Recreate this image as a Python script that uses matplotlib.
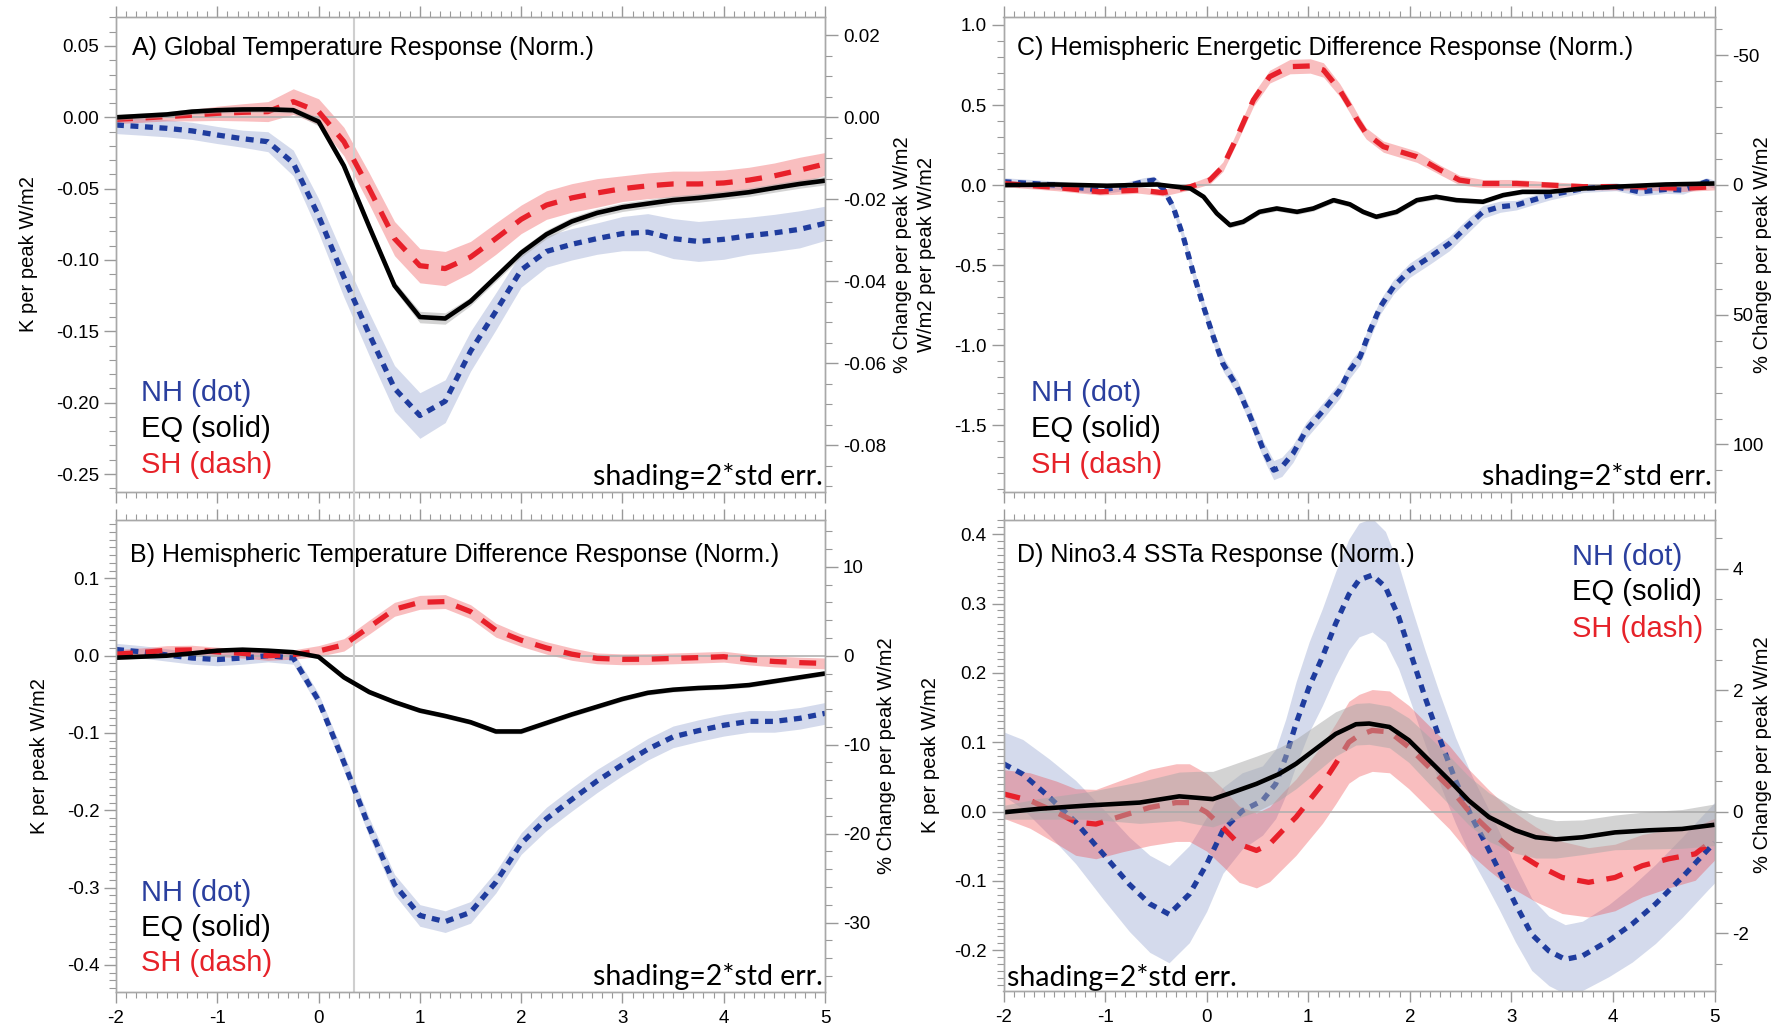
import numpy as np
import matplotlib
matplotlib.use("Agg")
import matplotlib.pyplot as plt
from matplotlib.ticker import MultipleLocator, FormatStrFormatter
from matplotlib.patches import ConnectionPatch

plt.rcParams["font.family"] = ["Liberation Sans", "DejaVu Sans"]
plt.rcParams["axes.unicode_minus"] = False

# ---------------- data ----------------
# panels A and B share a 0.25-year grid
x_ab = np.arange(-2, 5.001, 0.25)

nh_a = [-0.0054, -0.0065, -0.0077, -0.0095, -0.0124, -0.0150, -0.0171, -0.032, -0.069, -0.112,
        -0.152, -0.190, -0.209, -0.199, -0.164, -0.136, -0.107, -0.094, -0.089, -0.085,
        -0.0815, -0.0805, -0.085, -0.087, -0.0855, -0.083, -0.081, -0.0785, -0.0743]
eq_a = [0.000, 0.001, 0.002, 0.004, 0.005, 0.0055, 0.0056, 0.005, -0.003, -0.034,
        -0.0766, -0.118, -0.140, -0.141, -0.129, -0.112, -0.095, -0.082, -0.073, -0.067,
        -0.063, -0.0605, -0.058, -0.0565, -0.0546, -0.0525, -0.0495, -0.0467, -0.0444]
sh_a = [-0.0014, -0.0005, 0.0005, 0.0015, 0.0028, 0.0035, 0.004, 0.011, 0.004, -0.017,
        -0.050, -0.085, -0.104, -0.106, -0.098, -0.085, -0.0715, -0.0615, -0.0565, -0.053,
        -0.050, -0.048, -0.0467, -0.0467, -0.046, -0.044, -0.041, -0.037, -0.0327]
nh_a_err = [0.006, 0.006, 0.006, 0.006, 0.006, 0.006, 0.007, 0.009, 0.012, 0.014,
            0.015, 0.016, 0.016, 0.015, 0.014, 0.013, 0.012, 0.011, 0.011, 0.011,
            0.012, 0.013, 0.014, 0.014, 0.014, 0.013, 0.013, 0.013, 0.012]
eq_a_err = [0.002, 0.002, 0.002, 0.002, 0.002, 0.002, 0.002, 0.002, 0.003, 0.003,
            0.003, 0.003, 0.004, 0.004, 0.003, 0.003, 0.003, 0.003, 0.003, 0.003,
            0.003, 0.003, 0.003, 0.003, 0.003, 0.003, 0.003, 0.003, 0.003]
sh_a_err = [0.003, 0.003, 0.003, 0.004, 0.005, 0.006, 0.007, 0.009, 0.009, 0.010,
            0.011, 0.012, 0.012, 0.012, 0.011, 0.011, 0.010, 0.010, 0.010, 0.010,
            0.009, 0.009, 0.009, 0.009, 0.009, 0.009, 0.009, 0.009, 0.008]

nh_b = [0.008, 0.005, 0.001, -0.003, -0.005, -0.003, 0.0, -0.003, -0.058, -0.138,
        -0.222, -0.296, -0.336, -0.344, -0.332, -0.293, -0.243, -0.211, -0.186, -0.162,
        -0.141, -0.121, -0.105, -0.097, -0.090, -0.085, -0.085, -0.081, -0.0746]
eq_b = [-0.0026, -0.0013, 0.0, 0.003, 0.0065, 0.0078, 0.0065, 0.0045, -0.0015, -0.028,
        -0.047, -0.060, -0.071, -0.078, -0.086, -0.098, -0.098, -0.087, -0.076, -0.066,
        -0.056, -0.048, -0.044, -0.0418, -0.0405, -0.038, -0.033, -0.028, -0.023]
sh_b = [0.002, 0.004, 0.007, 0.0075, 0.005, 0.003, 0.0, 0.0015, 0.006, 0.014,
        0.037, 0.060, 0.069, 0.070, 0.057, 0.033, 0.020, 0.010, 0.002, -0.0035,
        -0.0047, -0.0045, -0.0035, -0.0025, -0.0013, -0.005, -0.0075, -0.009, -0.010]
nh_b_err = [0.008, 0.008, 0.008, 0.008, 0.008, 0.008, 0.008, 0.008, 0.009, 0.011,
            0.012, 0.013, 0.014, 0.014, 0.014, 0.014, 0.014, 0.015, 0.015, 0.015,
            0.014, 0.014, 0.014, 0.014, 0.014, 0.014, 0.014, 0.014, 0.014]
eq_b_err = [0.002, 0.002, 0.002, 0.002, 0.002, 0.002, 0.002, 0.002, 0.002, 0.003,
            0.003, 0.003, 0.003, 0.003, 0.003, 0.003, 0.003, 0.003, 0.003, 0.003,
            0.003, 0.003, 0.003, 0.003, 0.003, 0.003, 0.003, 0.003, 0.003]
sh_b_err = [0.006, 0.006, 0.006, 0.006, 0.006, 0.006, 0.006, 0.006, 0.007, 0.008,
            0.009, 0.009, 0.009, 0.009, 0.009, 0.009, 0.008, 0.008, 0.008, 0.007,
            0.007, 0.007, 0.007, 0.007, 0.007, 0.007, 0.007, 0.007, 0.007]

# panel C
x_nh_c = [-2, -1.48, -1.05, -0.82, -0.62, -0.52, -0.43, -0.33, -0.23, -0.13, -0.03, 0.066,
          0.16, 0.30, 0.43, 0.56, 0.66, 0.74, 0.85, 0.98, 1.15, 1.31, 1.41, 1.51, 1.61,
          1.71, 1.84, 2.0, 2.20, 2.39, 2.56, 2.72, 2.89, 3.05, 3.21, 3.38, 3.71, 4.03,
          4.26, 4.52, 4.69, 4.92, 5.0]
nh_c = [0.021, 0.0, -0.031, -0.01, 0.021, 0.031, -0.021, -0.135, -0.323, -0.552, -0.76,
        -0.948, -1.115, -1.26, -1.448, -1.656, -1.78, -1.76, -1.677, -1.531, -1.406,
        -1.281, -1.156, -1.073, -0.906, -0.76, -0.635, -0.531, -0.448, -0.365, -0.26,
        -0.167, -0.135, -0.125, -0.094, -0.0625, -0.021, -0.01, -0.042, -0.027, -0.031,
        0.021, 0.006]
nh_c_err = [0.025, 0.025, 0.025, 0.025, 0.025, 0.025, 0.025, 0.03, 0.035, 0.04, 0.04,
            0.045, 0.045, 0.045, 0.05, 0.055, 0.06, 0.06, 0.055, 0.05, 0.05, 0.05, 0.05,
            0.05, 0.05, 0.045, 0.045, 0.045, 0.045, 0.045, 0.045, 0.04, 0.035, 0.03,
            0.03, 0.03, 0.025, 0.025, 0.025, 0.025, 0.025, 0.025, 0.025]
x_eq_c = [-2, -1.5, -0.98, -0.49, -0.16, -0.03, 0.10, 0.23, 0.36, 0.52, 0.69, 0.89, 1.05,
          1.25, 1.41, 1.54, 1.67, 1.87, 2.07, 2.26, 2.46, 2.72, 2.92, 3.11, 3.38, 3.71,
          4.03, 4.52, 5.0]
eq_c = [0.0, 0.004, -0.004, 0.004, -0.021, -0.073, -0.177, -0.25, -0.229, -0.167, -0.146,
        -0.167, -0.146, -0.094, -0.12, -0.167, -0.198, -0.167, -0.094, -0.073, -0.094,
        -0.104, -0.0625, -0.042, -0.042, -0.021, -0.01, 0.004, 0.01]
eq_c_err = [0.012, 0.012, 0.012, 0.012, 0.012, 0.014, 0.015, 0.016, 0.016, 0.016, 0.016,
            0.016, 0.016, 0.016, 0.016, 0.016, 0.016, 0.016, 0.016, 0.016, 0.015, 0.015,
            0.014, 0.014, 0.013, 0.013, 0.012, 0.012, 0.012]
x_sh_c = [-2, -1.48, -1.05, -0.66, -0.43, -0.16, 0.03, 0.16, 0.30, 0.46, 0.62, 0.82, 1.02,
          1.15, 1.31, 1.41, 1.48, 1.57, 1.74, 2.07, 2.30, 2.49, 2.72, 3.05, 3.38, 3.71,
          4.20, 4.69, 5.0]
sh_c = [0.01, -0.015, -0.042, -0.031, -0.048, -0.01, 0.031, 0.115, 0.302, 0.531, 0.677,
        0.74, 0.744, 0.719, 0.594, 0.49, 0.41, 0.323, 0.24, 0.177, 0.094, 0.031, 0.01,
        0.01, 0.0, -0.01, -0.01, -0.02, -0.01]
sh_c_err = [0.02, 0.02, 0.02, 0.02, 0.02, 0.02, 0.025, 0.03, 0.035, 0.04, 0.04, 0.045,
            0.045, 0.045, 0.04, 0.04, 0.04, 0.035, 0.035, 0.035, 0.03, 0.03, 0.025, 0.025,
            0.02, 0.02, 0.02, 0.02, 0.02]

# panel D
x_nh_d = [-2, -1.81, -1.55, -1.29, -1.02, -0.76, -0.56, -0.37, -0.17, 0.0, 0.16, 0.35,
          0.55, 0.68, 0.78, 0.88, 1.01, 1.14, 1.27, 1.40, 1.50, 1.63, 1.76, 1.89, 2.02,
          2.15, 2.29, 2.45, 2.61, 2.75, 2.88, 3.04, 3.20, 3.37, 3.53, 3.70, 3.96, 4.19,
          4.42, 4.68, 4.94, 5.0]
nh_d = [0.069, 0.054, 0.021, -0.015, -0.061, -0.105, -0.133, -0.148, -0.119, -0.076,
        -0.027, 0.001, 0.016, 0.04, 0.079, 0.127, 0.18, 0.223, 0.271, 0.313, 0.334, 0.341,
        0.324, 0.281, 0.223, 0.165, 0.107, 0.045, -0.008, -0.047, -0.085, -0.133, -0.177,
        -0.201, -0.213, -0.208, -0.186, -0.162, -0.133, -0.095, -0.054, -0.045]
nh_d_err = [0.046, 0.05, 0.055, 0.06, 0.065, 0.068, 0.07, 0.07, 0.07, 0.068, 0.062, 0.055,
            0.05, 0.05, 0.055, 0.06, 0.065, 0.07, 0.075, 0.08, 0.082, 0.082, 0.08, 0.075,
            0.07, 0.068, 0.065, 0.062, 0.06, 0.058, 0.056, 0.055, 0.052, 0.05, 0.05, 0.05,
            0.052, 0.055, 0.057, 0.058, 0.058, 0.058]
x_eq_d = [-2, -1.65, -1.15, -0.66, -0.27, -0.10, 0.06, 0.22, 0.49, 0.71, 0.88, 1.08, 1.27,
          1.47, 1.60, 1.80, 1.99, 2.19, 2.39, 2.58, 2.78, 3.04, 3.24, 3.44, 3.70, 4.02,
          4.35, 4.68, 5.0]
eq_d = [-0.001, 0.004, 0.009, 0.013, 0.022, 0.020, 0.018, 0.026, 0.040, 0.054, 0.069,
        0.091, 0.112, 0.126, 0.127, 0.122, 0.103, 0.074, 0.045, 0.016, -0.008, -0.027,
        -0.037, -0.040, -0.037, -0.030, -0.027, -0.025, -0.019]
eq_d_err = [0.01, 0.015, 0.02, 0.03, 0.035, 0.038, 0.04, 0.04, 0.04, 0.038, 0.036, 0.034,
            0.032, 0.03, 0.03, 0.03, 0.032, 0.034, 0.035, 0.035, 0.035, 0.033, 0.03, 0.027,
            0.025, 0.025, 0.027, 0.028, 0.03]
x_sh_d = [-2, -1.74, -1.48, -1.29, -1.09, -0.83, -0.56, -0.30, -0.17, 0.0, 0.16, 0.32,
          0.49, 0.62, 0.75, 0.88, 1.01, 1.14, 1.27, 1.40, 1.50, 1.63, 1.80, 1.99, 2.19,
          2.39, 2.58, 2.78, 2.98, 3.24, 3.50, 3.76, 4.02, 4.29, 4.55, 4.81, 4.96, 5.0]
sh_d = [0.0255, 0.016, -0.001, -0.015, -0.018, -0.006, 0.006, 0.013, 0.013, -0.001,
        -0.023, -0.047, -0.056, -0.047, -0.027, -0.008, 0.016, 0.040, 0.069, 0.100, 0.110,
        0.117, 0.115, 0.093, 0.064, 0.035, 0.001, -0.027, -0.052, -0.076, -0.095, -0.102,
        -0.095, -0.078, -0.068, -0.061, -0.044, -0.040]
sh_d_err = [0.035, 0.04, 0.045, 0.048, 0.05, 0.052, 0.055, 0.056, 0.056, 0.056, 0.056,
            0.055, 0.054, 0.054, 0.055, 0.055, 0.056, 0.057, 0.058, 0.059, 0.059, 0.059,
            0.059, 0.06, 0.06, 0.06, 0.06, 0.058, 0.056, 0.054, 0.052, 0.05, 0.048, 0.045,
            0.042, 0.038, 0.032, 0.03]

# ---------------- style ----------------
NH_COL = "#1f3c9e"
SH_COL = "#e8202a"
FRAME = "#a8a8a8"
W, H = 1778.0, 1031.0


def band_line(ax, x, y, err, kind):
    x = np.asarray(x)
    y = np.asarray(y)
    err = np.asarray(err)
    if kind == "nh":
        ax.fill_between(x, y - err, y + err, color="#2b4aa0", alpha=0.2, lw=0, zorder=1)
        ax.plot(x, y, color=NH_COL, lw=3.8, ls=(0, (1.5, 1.25)), zorder=2,
                dash_joinstyle="round")
    elif kind == "sh":
        ax.fill_between(x, y - err, y + err, color="#ee3a3f", alpha=0.33, lw=0, zorder=1.1)
        ax.plot(x, y, color=SH_COL, lw=3.8, ls=(0, (3.2, 2.4)), zorder=2.1,
                dash_joinstyle="round")
    else:
        ax.fill_between(x, y - err, y + err, color="#a8a8a8", alpha=0.5, lw=0, zorder=2.5)
        ax.plot(x, y, color="black", lw=3.3, zorder=3, solid_capstyle="butt",
                solid_joinstyle="round")


def style_axes(ax, ax2, ylim, ylim2, maj, mnr, maj2, mnr2, fmt, fmt2, xlabels):
    ax.set_xlim(-2, 5)
    ax.set_ylim(*ylim)
    ax2.set_ylim(*ylim2)
    ax.xaxis.set_major_locator(MultipleLocator(1))
    ax.xaxis.set_minor_locator(MultipleLocator(0.1))
    ax.yaxis.set_major_locator(MultipleLocator(maj))
    ax.yaxis.set_minor_locator(MultipleLocator(mnr))
    ax.yaxis.set_major_formatter(FormatStrFormatter(fmt))
    ax2.yaxis.set_major_locator(MultipleLocator(maj2))
    ax2.yaxis.set_minor_locator(MultipleLocator(mnr2))
    ax2.yaxis.set_major_formatter(FormatStrFormatter(fmt2))
    ax.tick_params(axis="x", which="both", direction="out", top=True, bottom=True,
                   colors="#999999", labelcolor="black", labelsize=13.5, pad=5,
                   labelbottom=xlabels)
    ax.tick_params(axis="x", which="major", length=8, width=1)
    ax.tick_params(axis="x", which="minor", length=4.5, width=0.8)
    ax.tick_params(axis="y", which="both", direction="out", colors="#999999",
                   labelcolor="black", labelsize=13.5, pad=3)
    ax.tick_params(axis="y", which="major", length=9, width=1)
    ax.tick_params(axis="y", which="minor", length=5, width=0.8)
    ax2.tick_params(axis="y", which="both", direction="out", colors="#999999",
                    labelcolor="black", labelsize=13.5, pad=4)
    ax2.tick_params(axis="y", which="major", length=9, width=1)
    ax2.tick_params(axis="y", which="minor", length=5, width=0.8)
    for a in (ax, ax2):
        for sp in a.spines.values():
            sp.set_color(FRAME)
            sp.set_linewidth(1.0)
    ax.axhline(0, color="#b0b0b0", lw=1.2, zorder=1.5)


def legend_text(ax, x, ys, ha="left"):
    ax.text(x, ys[0], "NH (dot)", color="#2a3f9e", fontsize=21, ha=ha, va="center",
            transform=ax.transAxes)
    ax.text(x, ys[1], "EQ (solid)", color="black", fontsize=21, ha=ha, va="center",
            transform=ax.transAxes)
    ax.text(x, ys[2], "SH (dash)", color="#e62229", fontsize=21, ha=ha, va="center",
            transform=ax.transAxes)


fig = plt.figure(figsize=(17.78, 10.31), dpi=100)

axA = fig.add_axes([116 / W, 1 - 491.7 / H, 709 / W, 474.4 / H])
axB = fig.add_axes([116 / W, 1 - 992 / H, 709 / W, 472 / H])
axC = fig.add_axes([1003.5 / W, 1 - 491.7 / H, 711 / W, 474.4 / H])
axD = fig.add_axes([1003.5 / W, 1 - 991 / H, 711 / W, 471 / H])
axA2 = axA.twinx()
axB2 = axB.twinx()
axC2 = axC.twinx()
axD2 = axD.twinx()

# A
band_line(axA, x_ab, nh_a, nh_a_err, "nh")
band_line(axA, x_ab, sh_a, sh_a_err, "sh")
band_line(axA, x_ab, eq_a, eq_a_err, "eq")
style_axes(axA, axA2, (-0.2624, 0.0701), (-0.0913, 0.0244), 0.05, 0.01, 0.02, 0.005,
           "%.2f", "%.2f", False)

# B
band_line(axB, x_ab, nh_b, nh_b_err, "nh")
band_line(axB, x_ab, sh_b, sh_b_err, "sh")
band_line(axB, x_ab, eq_b, eq_b_err, "eq")
style_axes(axB, axB2, (-0.435, 0.1755), (-37.8, 15.26), 0.1, 0.01, 10, 2,
           "%.1f", "%d", True)

# C
band_line(axC, x_nh_c, nh_c, nh_c_err, "nh")
band_line(axC, x_sh_c, sh_c, sh_c_err, "sh")
band_line(axC, x_eq_c, eq_c, eq_c_err, "eq")
style_axes(axC, axC2, (-1.915, 1.048), (118.2, -64.6), 0.5, 0.1, 50, 10,
           "%.1f", "%d", False)

# D
band_line(axD, x_nh_d, nh_d, nh_d_err, "nh")
band_line(axD, x_sh_d, sh_d, sh_d_err, "sh")
band_line(axD, x_eq_d, eq_d, eq_d_err, "eq")
style_axes(axD, axD2, (-0.2587, 0.4205), (-2.95, 4.80), 0.1, 0.01, 2, 0.5,
           "%.1f", "%d", True)

# vertical marker in A and B, running through the gap
for a in (axA, axB):
    a.axvline(0.35, color="#cfcfcf", lw=1.5, zorder=1.5)
con = ConnectionPatch(xyA=(0.35, axA.get_ylim()[0]), coordsA=axA.transData,
                      xyB=(0.35, axB.get_ylim()[1]), coordsB=axB.transData,
                      color="#cfcfcf", lw=1.5)
fig.add_artist(con)

# titles
axA.text(0.0221, 0.9347, "A) Global Temperature Response (Norm.)", fontsize=18,
         ha="left", va="center", transform=axA.transAxes)
axB.text(0.0197, 0.9258, "B) Hemispheric Temperature Difference Response (Norm.)",
         fontsize=18, ha="left", va="center", transform=axB.transAxes)
axC.text(0.0186, 0.9347, "C) Hemispheric Energetic Difference Response (Norm.)",
         fontsize=18, ha="left", va="center", transform=axC.transAxes)
axD.text(0.0186, 0.9255, "D) Nino3.4 SSTa Response (Norm.)", fontsize=18,
         ha="left", va="center", transform=axD.transAxes)

# legends
legend_text(axA, 0.0353, (0.208, 0.1322, 0.0563))
legend_text(axB, 0.0353, (0.2091, 0.1349, 0.0608))
legend_text(axC, 0.0387, (0.208, 0.1322, 0.0563))
legend_text(axD, 0.799, (0.9206, 0.8462, 0.7695))

# shading notes
sh_font = dict(fontsize=20.5, family=["Lato", "DejaVu Sans"], va="center")
axA.text(0.9972, 0.0316, "shading=2*std err.", ha="right", transform=axA.transAxes, **sh_font)
axB.text(0.9972, 0.0318, "shading=2*std err.", ha="right", transform=axB.transAxes, **sh_font)
axC.text(0.996, 0.0316, "shading=2*std err.", ha="right", transform=axC.transAxes, **sh_font)
axD.text(0.0045, 0.0277, "shading=2*std err.", ha="left", transform=axD.transAxes, **sh_font)

# axis labels
lab = dict(rotation=90, ha="center", va="center", fontsize=14.5)
fig.text(28.5 / W, 1 - 254.5 / H, "K per peak W/m2", **lab)
fig.text(903 / W, 1 - 254.5 / H, "% Change per peak W/m2", **lab)
fig.text(40 / W, 1 - 756 / H, "K per peak W/m2", **lab)
fig.text(887 / W, 1 - 756 / H, "% Change per peak W/m2", **lab)
fig.text(926 / W, 1 - 254.5 / H, "W/m2 per peak W/m2", **lab)
fig.text(1763 / W, 1 - 254.5 / H, "% Change per peak W/m2", **lab)
fig.text(931 / W, 1 - 755 / H, "K per peak W/m2", **lab)
fig.text(1763 / W, 1 - 755 / H, "% Change per peak W/m2", **lab)

fig.savefig("out.png", dpi=100)
